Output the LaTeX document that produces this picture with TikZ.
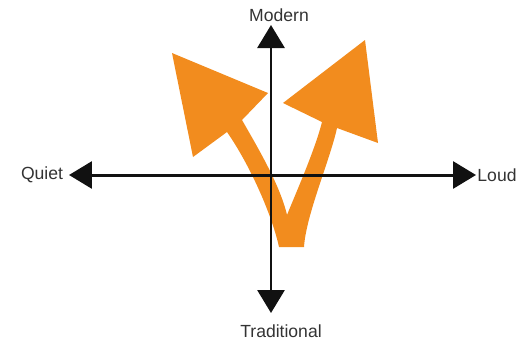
\documentclass[tikz,border=0pt]{standalone}
\usepackage{fontspec}
\setmainfont{Liberation Sans}
\usetikzlibrary{arrows.meta,positioning}
\definecolor{qmorange}{HTML}{F28C1E}
\definecolor{qmink}{HTML}{111111}
\definecolor{qmtext}{HTML}{333333}
\tikzset{
  qm/.style={x=0.02cm, y=-0.02cm},
  qmaxis/.style={{Triangle[length=0.46cm,width=0.54cm]}-{Triangle[length=0.46cm,width=0.54cm]},
    line width=1.7pt, draw=qmink},
  qmlbl/.style={font=\fontsize{10}{12}\selectfont, text=qmtext, inner sep=0pt},
}

\begin{document}
\begin{tikzpicture}[qm]
  \useasboundingbox (0,0) rectangle (520,342);
  % orange split arrow
  \fill[qmorange] (172,53) -- (268,93) -- (242,120)
    .. controls (258,148) and (280,185) .. (287,215)
    .. controls (295,195) and (315,150) .. (322,122)
    -- (283,103) -- (365,40) -- (378,143) -- (337,128)
    .. controls (330,160) and (306,215) .. (304,247)
    -- (279,247)
    .. controls (272,215) and (250,165) .. (227,132)
    -- (193,157) -- cycle;
  % axes
  \coordinate (left) at (69,175);
  \coordinate (right) at (476,175);
  \coordinate (top) at (271,25);
  \coordinate (bottom) at (271,313);
  \draw[qmaxis] (left) -- (right);
  \draw[qmaxis] (bottom) -- (top);
  \node[qmlbl] (quiet) at (42,175) {Quiet};
  \node[qmlbl] (loud) at (497,175) {Loud};
  \node[qmlbl] (modern) at (279,15) {Modern};
  \node[qmlbl] (trad) at (281,331) {Traditional};
\end{tikzpicture}
\end{document}
